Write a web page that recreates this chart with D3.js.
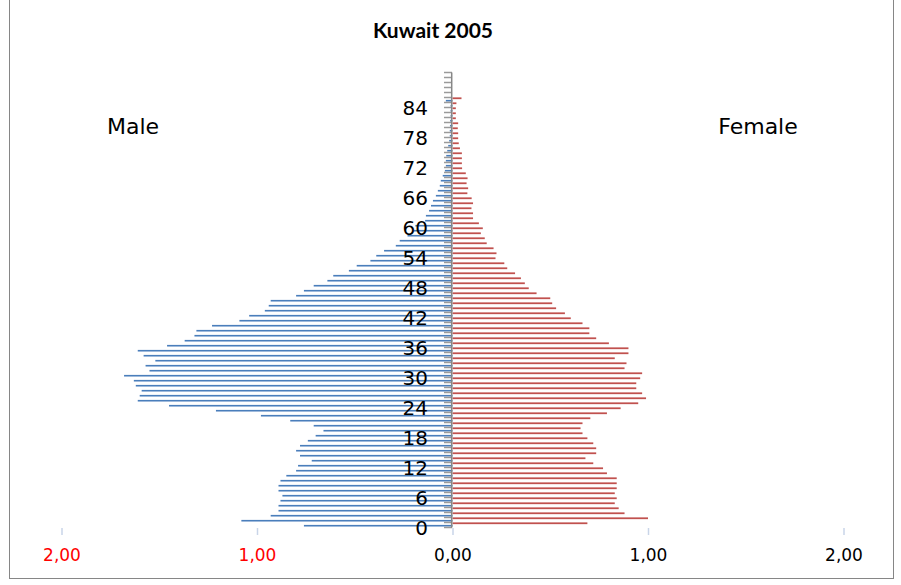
<!DOCTYPE html>
<html>
<head>
<meta charset="utf-8">
<script src="https://cdn.jsdelivr.net/npm/d3@7"></script>
<style>
  body { margin: 0; background: #fff; }
  svg { display: block; }
</style>
</head>
<body>
<svg id="chart" width="901" height="585"></svg>
<script>
// ages 0..90 on the category axis, values only up to 85 (85+)
const ages = d3.range(0, 91);
const ageLabels = d3.range(0, 85, 6);
const xTicks = [-2, -1, 0, 1, 2];

const male = [
  0.76, 1.08, 0.93, 0.89, 0.89, 0.88, 0.87, 0.89, 0.89, 0.88,
  0.85, 0.80, 0.79, 0.72, 0.78, 0.80, 0.78, 0.74, 0.70, 0.66,
  0.71, 0.83, 0.98, 1.21, 1.45, 1.61, 1.60, 1.59, 1.62, 1.63,
  1.68, 1.55, 1.57, 1.52, 1.58, 1.61, 1.46, 1.37, 1.32, 1.31,
  1.23, 1.09, 1.04, 0.96, 0.94, 0.93, 0.80, 0.76, 0.71, 0.64,
  0.61, 0.53, 0.49, 0.42, 0.39, 0.35, 0.29, 0.27, 0.23, 0.20,
  0.19, 0.14, 0.136, 0.12, 0.11, 0.10, 0.085, 0.075, 0.065, 0.06,
  0.05, 0.039, 0.034, 0.034, 0.032, 0.027, 0.022, 0.017, 0.014, 0.014,
  0.013, 0.012, 0.01, 0.01, 0.01, 0.034
];
const female = [
  0.69, 1.00, 0.88, 0.85, 0.83, 0.84, 0.83, 0.84, 0.84, 0.84,
  0.79, 0.77, 0.72, 0.68, 0.735, 0.735, 0.72, 0.69, 0.665, 0.655,
  0.665, 0.705, 0.79, 0.86, 0.95, 0.99, 0.97, 0.94, 0.94, 0.96,
  0.97, 0.88, 0.89, 0.83, 0.90, 0.90, 0.80, 0.735, 0.70, 0.70,
  0.665, 0.605, 0.575, 0.53, 0.51, 0.50, 0.43, 0.39, 0.37, 0.35,
  0.32, 0.28, 0.265, 0.22, 0.225, 0.21, 0.175, 0.165, 0.145, 0.155,
  0.135, 0.105, 0.105, 0.097, 0.105, 0.098, 0.076, 0.080, 0.072, 0.077,
  0.068, 0.049, 0.048, 0.048, 0.048, 0.038, 0.032, 0.029, 0.029, 0.027,
  0.029, 0.017, 0.017, 0.017, 0.020, 0.046
];

const svg = d3.select('#chart');

const x = d3.scaleLinear().domain([-2, 2]).range([61.5, 843.5]);
const y = d3.scaleBand().domain(ages).range([527.5, 72.5]).paddingInner(0).paddingOuter(0);
const bw = y.bandwidth();

// chart frame
svg.append('rect')
  .attr('x', 9.5).attr('y', -2)
  .attr('width', 884).attr('height', 580.5)
  .attr('fill', '#fff')
  .attr('stroke', '#868686')
  .attr('stroke-width', 1);

// bar gradients, the old excel look
let defs = svg.append('defs');
function grad(id, dark, light) {
  let g = defs.append('linearGradient').attr('id', id)
    .attr('x1', 0).attr('y1', 0).attr('x2', 0).attr('y2', 1);
  g.append('stop').attr('offset', '0%').attr('stop-color', dark);
  g.append('stop').attr('offset', '55%').attr('stop-color', dark);
  g.append('stop').attr('offset', '100%').attr('stop-color', light);
}
grad('gMale', '#4a7ebb', '#a9c1e0');
grad('gFemale', '#be4b48', '#e3a9a7');

// male bars (plotted as negative values)
svg.append('g').selectAll('rect')
  .data(male)
  .join('rect')
  .attr('x', d => x(-d))
  .attr('y', (d, i) => y(ages[i]) + 2.4)
  .attr('width', d => x(0) - x(-d))
  .attr('height', 1.9)
  .attr('fill', 'url(#gMale)');

// female bars
svg.append('g').selectAll('rect')
  .data(female)
  .join('rect')
  .attr('x', x(0))
  .attr('y', (d, i) => y(ages[i]) - 0.1)
  .attr('width', d => x(d) - x(0))
  .attr('height', 1.9)
  .attr('fill', 'url(#gFemale)');

// category axis: tick marks between categories, line at zero
let catAxis = svg.append('g');
let tickYs = ages.map(a => y(a) + bw).concat([y(ages[ages.length - 1])]);
catAxis.selectAll('line.tick')
  .data(tickYs)
  .join('line')
  .attr('class', 'tick')
  .attr('x1', x(0) - 8.5).attr('x2', x(0) - 0.5)
  .attr('y1', d => d).attr('y2', d => d)
  .attr('stroke', '#9a9a9a')
  .attr('stroke-width', 1.5);
catAxis.append('line')
  .attr('x1', x(0) - 0.8).attr('x2', x(0) - 0.8)
  .attr('y1', y(ages[ages.length - 1])).attr('y2', y(0) + bw)
  .attr('stroke', '#868686')
  .attr('stroke-width', 1.5);

// age labels sit on the lower edge of their category
catAxis.selectAll('text')
  .data(ageLabels)
  .join('text')
  .attr('x', 428)
  .attr('y', d => y(d) + bw)
  .attr('dy', '0.36em')
  .attr('text-anchor', 'end')
  .attr('font-family', 'DejaVu Sans, sans-serif')
  .attr('font-size', 20)
  .attr('fill', '#000')
  .text(d => d);

// value axis at the bottom, negatives shown in red without sign
let xAxis = d3.axisBottom(x)
  .tickValues(xTicks)
  .tickSize(7)
  .tickPadding(14)
  .tickFormat(d => Math.abs(d).toFixed(2).replace('.', ','));
let xg = svg.append('g')
  .attr('transform', 'translate(0,528)')
  .call(xAxis);
xg.select('.domain').remove();
xg.selectAll('.tick line').attr('stroke', '#c9d5e8').attr('stroke-width', 1.5);
xg.selectAll('.tick text')
  .attr('font-family', 'DejaVu Sans, sans-serif')
  .attr('font-size', 17)
  .attr('fill', d => d < 0 ? '#ff0000' : '#000');

// title and side labels
svg.append('text')
  .attr('x', 433).attr('y', 38)
  .attr('text-anchor', 'middle')
  .attr('font-family', 'Lato, sans-serif')
  .attr('font-weight', 'bold')
  .attr('font-size', 21)
  .text('Kuwait 2005');

svg.append('text')
  .attr('x', 133).attr('y', 134)
  .attr('text-anchor', 'middle')
  .attr('font-family', 'DejaVu Sans, sans-serif')
  .attr('font-size', 22)
  .text('Male');

svg.append('text')
  .attr('x', 758).attr('y', 134)
  .attr('text-anchor', 'middle')
  .attr('font-family', 'DejaVu Sans, sans-serif')
  .attr('font-size', 22)
  .text('Female');
</script>
</body>
</html>
